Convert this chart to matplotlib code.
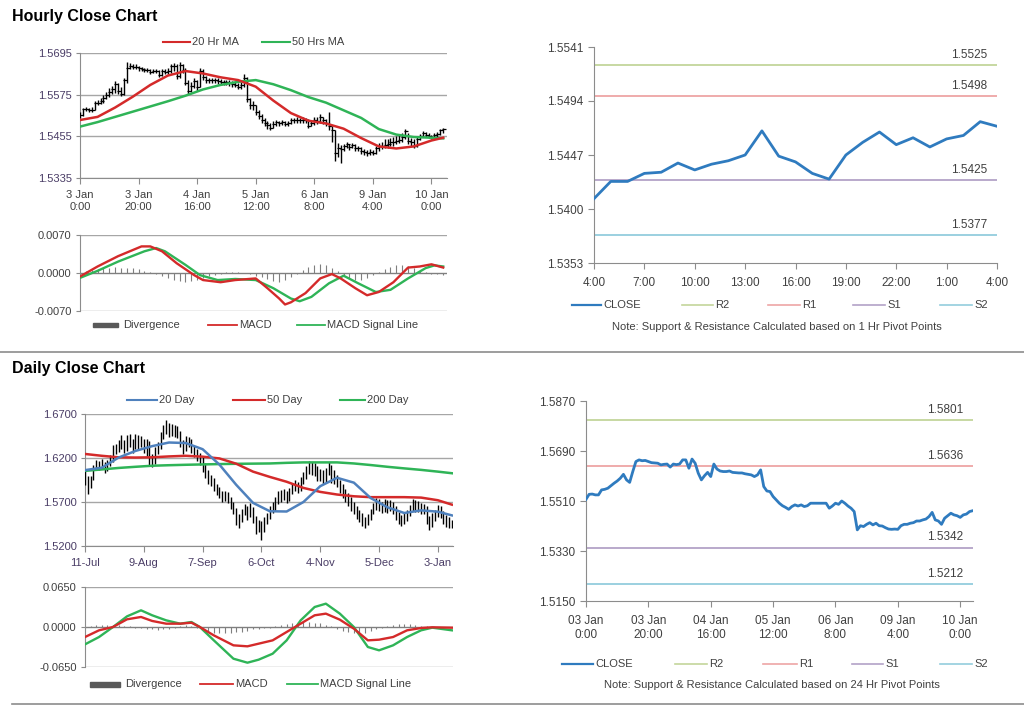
import matplotlib
matplotlib.use('Agg')
import matplotlib.pyplot as plt
from matplotlib.lines import Line2D
from matplotlib.patches import Rectangle

plt.rcParams['font.family'] = ['Liberation Sans', 'DejaVu Sans']

W, H = 1024, 706

# ---------------- hourly data (3 Jan 0:00 .. 10 Jan 4:00, 125 bars) ----------------
hourly_close = [
    1.5516, 1.5534, 1.5535, 1.5532, 1.5532, 1.5550, 1.5552, 1.5556, 1.5565, 1.5574,
    1.5582, 1.5592, 1.5606, 1.5586, 1.5577, 1.5616, 1.5652, 1.5658, 1.5655, 1.5656,
    1.5652, 1.5648, 1.5647, 1.5646, 1.5640, 1.5642, 1.5643, 1.5632, 1.5643, 1.5641,
    1.5643, 1.5658, 1.5658, 1.5628, 1.5661, 1.5646, 1.5610, 1.5586, 1.5601, 1.5613,
    1.5598, 1.5643, 1.5625, 1.5618, 1.5616, 1.5616, 1.5618, 1.5613, 1.5612, 1.5611,
    1.5611, 1.5608, 1.5606, 1.5604, 1.5598, 1.5604, 1.5622, 1.5562, 1.5546, 1.5544,
    1.5526, 1.5514, 1.5502, 1.5493, 1.5487, 1.5480, 1.5490, 1.5496, 1.5492, 1.5496,
    1.5490, 1.5493, 1.5502, 1.5502, 1.5502, 1.5502, 1.5502, 1.5502, 1.5484, 1.5492,
    1.5502, 1.5498, 1.5510, 1.5502, 1.5492, 1.5484, 1.5472, 1.5406, 1.5421, 1.5418,
    1.5426, 1.5432, 1.5424, 1.5430, 1.5421, 1.5420, 1.5414, 1.5409, 1.5408, 1.5409,
    1.5408, 1.5421, 1.5426, 1.5426, 1.5430, 1.5432, 1.5438, 1.5438, 1.5442, 1.5445,
    1.5454, 1.5469, 1.5442, 1.5438, 1.5426, 1.5448, 1.5457, 1.5466, 1.5460, 1.5457,
    1.5451, 1.5460, 1.5463, 1.5472, 1.5475]
hourly_high = [
    1.5524, 1.5538, 1.5540, 1.5538, 1.5540, 1.5556, 1.5560, 1.5564, 1.5574, 1.5582,
    1.5594, 1.5600, 1.5614, 1.5608, 1.5596, 1.5622, 1.5668, 1.5666, 1.5662, 1.5662,
    1.5658, 1.5656, 1.5652, 1.5652, 1.5648, 1.5648, 1.5650, 1.5646, 1.5650, 1.5648,
    1.5652, 1.5664, 1.5666, 1.5662, 1.5668, 1.5664, 1.5652, 1.5616, 1.5612, 1.5622,
    1.5618, 1.5652, 1.5648, 1.5630, 1.5624, 1.5624, 1.5624, 1.5622, 1.5620, 1.5618,
    1.5618, 1.5616, 1.5614, 1.5612, 1.5610, 1.5612, 1.5634, 1.5626, 1.5566, 1.5556,
    1.5546, 1.5530, 1.5520, 1.5508, 1.5500, 1.5492, 1.5498, 1.5502, 1.5500, 1.5502,
    1.5498, 1.5500, 1.5508, 1.5508, 1.5510, 1.5508, 1.5510, 1.5508, 1.5506, 1.5500,
    1.5512, 1.5510, 1.5518, 1.5512, 1.5504, 1.5526, 1.5486, 1.5472, 1.5436, 1.5430,
    1.5434, 1.5440, 1.5434, 1.5436, 1.5432, 1.5428, 1.5424, 1.5418, 1.5416, 1.5418,
    1.5416, 1.5428, 1.5436, 1.5440, 1.5446, 1.5448, 1.5450, 1.5452, 1.5456, 1.5458,
    1.5466, 1.5476, 1.5466, 1.5450, 1.5446, 1.5456, 1.5462, 1.5470, 1.5468, 1.5464,
    1.5460, 1.5466, 1.5468, 1.5476, 1.5480]
hourly_low = [
    1.5508, 1.5514, 1.5528, 1.5526, 1.5526, 1.5530, 1.5544, 1.5548, 1.5552, 1.5562,
    1.5568, 1.5576, 1.5580, 1.5578, 1.5570, 1.5574, 1.5610, 1.5648, 1.5648, 1.5648,
    1.5644, 1.5642, 1.5640, 1.5640, 1.5634, 1.5636, 1.5636, 1.5626, 1.5628, 1.5634,
    1.5634, 1.5638, 1.5644, 1.5620, 1.5624, 1.5636, 1.5604, 1.5578, 1.5582, 1.5594,
    1.5586, 1.5596, 1.5616, 1.5608, 1.5608, 1.5608, 1.5610, 1.5606, 1.5604, 1.5604,
    1.5602, 1.5600, 1.5598, 1.5596, 1.5590, 1.5592, 1.5596, 1.5554, 1.5534, 1.5532,
    1.5516, 1.5504, 1.5492, 1.5484, 1.5476, 1.5472, 1.5478, 1.5486, 1.5486, 1.5488,
    1.5484, 1.5486, 1.5490, 1.5494, 1.5494, 1.5494, 1.5492, 1.5494, 1.5478, 1.5484,
    1.5488, 1.5490, 1.5494, 1.5490, 1.5484, 1.5474, 1.5440, 1.5384, 1.5396, 1.5378,
    1.5414, 1.5420, 1.5416, 1.5420, 1.5414, 1.5412, 1.5404, 1.5400, 1.5398, 1.5400,
    1.5400, 1.5404, 1.5414, 1.5418, 1.5420, 1.5422, 1.5428, 1.5428, 1.5432, 1.5436,
    1.5440, 1.5448, 1.5434, 1.5428, 1.5420, 1.5424, 1.5444, 1.5452, 1.5452, 1.5450,
    1.5446, 1.5450, 1.5454, 1.5458, 1.5466]

hourly_ticks = [0, 20, 40, 60, 80, 100, 120]
hourly_ticklabels = ['3 Jan\n0:00', '3 Jan\n20:00', '4 Jan\n16:00', '5 Jan\n12:00',
                     '6 Jan\n8:00', '9 Jan\n4:00', '10 Jan\n0:00']
pivot_day_ticklabels = ['03 Jan\n0:00', '03 Jan\n20:00', '04 Jan\n16:00', '05 Jan\n12:00',
                        '06 Jan\n8:00', '09 Jan\n4:00', '10 Jan\n0:00']

ma_hours = [0, 6, 12, 18, 24, 30, 36, 42, 48, 54, 60, 66, 72, 78, 84, 90, 96, 102, 108, 114, 120, 124]
ma20_hr = [1.5502, 1.5511, 1.5538, 1.5569, 1.5603, 1.5630, 1.5643, 1.5636, 1.5625, 1.5617, 1.5598,
           1.5558, 1.5522, 1.5500, 1.5492, 1.5477, 1.5450, 1.5426, 1.5420, 1.5426, 1.5443, 1.5451]
ma50_hr = [1.5483, 1.5496, 1.5511, 1.5526, 1.5541, 1.5556, 1.5572, 1.5590, 1.5603, 1.5612, 1.5617,
           1.5605, 1.5588, 1.5568, 1.5552, 1.5530, 1.5508, 1.5476, 1.5460, 1.5453, 1.5451, 1.5449]

macd_hr_x = [0, 6, 13, 21, 24, 28, 33, 39, 42, 48, 53, 60, 64, 68, 70, 72, 77, 82, 86, 89, 94, 98,
             102, 107, 112, 116, 120, 124]
macd_hr = [-0.00065, 0.0012, 0.0031, 0.0049, 0.0049, 0.0040, 0.0018, -0.0004, -0.0013, -0.0017,
           -0.0013, -0.0010, -0.0028, -0.0047, -0.0058, -0.0054, -0.0037, -0.0010, -0.0002, -0.0010,
           -0.0028, -0.0041, -0.0035, -0.0017, 0.0010, 0.0012, 0.0016, 0.0010]
signal_hr_x = [0, 6, 13, 22, 26, 29, 36, 41, 47, 53, 60, 66, 72, 75, 79, 85, 90, 95, 101, 106,
               112, 118, 121, 124]
signal_hr = [-0.0009, 0.0004, 0.0021, 0.0040, 0.0046, 0.0040, 0.0015, -0.0004, -0.0013, -0.0011,
             -0.0013, -0.0028, -0.0047, -0.0052, -0.0044, -0.0019, -0.0005, -0.0019, -0.0035,
             -0.0031, -0.0010, 0.0009, 0.0014, 0.0012]
div_hr_x = list(range(0, 125, 2))
div_hr = [0.0002, 0.0004, 0.0006, 0.0008, 0.0009, 0.0010, 0.0011, 0.0009, 0.0010, 0.0009,
          0.0007, 0.0004, 0.0001, -0.0002, -0.0006, -0.0010, -0.0013, -0.0015, -0.0016, -0.0015,
          -0.0013, -0.0010, -0.0006, -0.0003, -0.0001, 0.0001, 0.0002, 0.0001, 0.0000, -0.0002,
          -0.0005, -0.0008, -0.0011, -0.0014, -0.0016, -0.0013, -0.0008, -0.0002, 0.0006, 0.0011,
          0.0015, 0.0016, 0.0015, 0.0010, 0.0003, -0.0004, -0.0009, -0.0012, -0.0013, -0.0010,
          -0.0004, 0.0002, 0.0007, 0.0011, 0.0014, 0.0015, 0.0013, 0.0009, 0.0004, 0.0001,
          -0.0001, -0.0002, -0.0003]

# 1 Hr pivot chart (9 Jan 4:00 .. 10 Jan 4:00)
pivot_1h_labels = ['4:00', '7:00', '10:00', '13:00', '16:00', '19:00', '22:00', '1:00', '4:00']
pivot_1h_close = [1.5409, 1.5424, 1.5424, 1.5431, 1.5432, 1.5440, 1.5434, 1.5439, 1.5442, 1.5447,
                  1.5468, 1.5446, 1.5441, 1.5431, 1.5426, 1.5447, 1.5458, 1.5467, 1.5456, 1.5462,
                  1.5454, 1.5461, 1.5464, 1.5476, 1.5472]
levels_1h = {'R2': 1.5525, 'R1': 1.5498, 'S1': 1.5425, 'S2': 1.5377}
levels_24h = {'R2': 1.5801, 'R1': 1.5636, 'S1': 1.5342, 'S2': 1.5212}

# ---------------- daily data (11 Jul .. 10 Jan, 132 bars) ----------------
daily_high = [
    1.6060, 1.5990, 1.6000, 1.6120, 1.6180, 1.6170, 1.6190, 1.6160, 1.6180, 1.6230,
    1.6350, 1.6360, 1.6410, 1.6460, 1.6400, 1.6460, 1.6470, 1.6420, 1.6470, 1.6460,
    1.6450, 1.6420, 1.6420, 1.6390, 1.6240, 1.6320, 1.6380, 1.6490, 1.6580, 1.6630,
    1.6600, 1.6590, 1.6570, 1.6560, 1.6510, 1.6400, 1.6450, 1.6440, 1.6420, 1.6340,
    1.6300, 1.6260, 1.6210, 1.6140, 1.6060, 1.6010, 1.5970, 1.5910, 1.5870, 1.5830,
    1.5830, 1.5810, 1.5760, 1.5700, 1.5630, 1.5560, 1.5620, 1.5680, 1.5660, 1.5690,
    1.5640, 1.5540, 1.5490, 1.5480, 1.5530, 1.5580, 1.5650, 1.5700, 1.5760, 1.5830,
    1.5840, 1.5850, 1.5830, 1.5860, 1.5920, 1.5950, 1.5930, 1.5980, 1.6040, 1.6110,
    1.6170, 1.6160, 1.6140, 1.6110, 1.6080, 1.6060, 1.6090, 1.6160, 1.6120, 1.6060,
    1.6010, 1.5950, 1.5900, 1.5850, 1.5800, 1.5760, 1.5700, 1.5660, 1.5610, 1.5570,
    1.5530, 1.5560, 1.5620, 1.5690, 1.5740, 1.5730, 1.5700, 1.5730, 1.5720, 1.5720,
    1.5700, 1.5650, 1.5590, 1.5550, 1.5570, 1.5610, 1.5670, 1.5730, 1.5720, 1.5710,
    1.5690, 1.5680, 1.5650, 1.5540, 1.5570, 1.5610, 1.5670, 1.5660, 1.5600, 1.5550,
    1.5530, 1.5500]
daily_low = [
    1.5890, 1.5790, 1.5860, 1.5950, 1.6060, 1.6060, 1.6080, 1.6030, 1.6050, 1.6110,
    1.6150, 1.6250, 1.6270, 1.6300, 1.6260, 1.6280, 1.6330, 1.6260, 1.6300, 1.6300,
    1.6320, 1.6260, 1.6220, 1.6120, 1.6100, 1.6130, 1.6250, 1.6300, 1.6420, 1.6470,
    1.6440, 1.6450, 1.6440, 1.6430, 1.6330, 1.6250, 1.6280, 1.6330, 1.6260, 1.6210,
    1.6170, 1.6120, 1.6040, 1.5970, 1.5910, 1.5880, 1.5830, 1.5780, 1.5740, 1.5700,
    1.5710, 1.5690, 1.5620, 1.5560, 1.5440, 1.5410, 1.5470, 1.5550, 1.5500, 1.5530,
    1.5460, 1.5340, 1.5360, 1.5270, 1.5360, 1.5450, 1.5510, 1.5570, 1.5600, 1.5680,
    1.5700, 1.5720, 1.5690, 1.5710, 1.5790, 1.5820, 1.5800, 1.5830, 1.5900, 1.5960,
    1.6020, 1.6010, 1.6000, 1.5940, 1.5940, 1.5910, 1.5930, 1.6010, 1.5920, 1.5910,
    1.5870, 1.5800, 1.5750, 1.5700, 1.5660, 1.5600, 1.5560, 1.5510, 1.5470, 1.5430,
    1.5410, 1.5440, 1.5490, 1.5560, 1.5610, 1.5600, 1.5570, 1.5590, 1.5580, 1.5600,
    1.5560, 1.5500, 1.5450, 1.5430, 1.5450, 1.5480, 1.5540, 1.5600, 1.5590, 1.5590,
    1.5560, 1.5560, 1.5450, 1.5380, 1.5420, 1.5480, 1.5530, 1.5520, 1.5450, 1.5420,
    1.5400, 1.5410]
daily_ticks = [0, 21, 42, 63, 84, 105, 126]
daily_ticklabels = ['11-Jul', '9-Aug', '7-Sep', '6-Oct', '4-Nov', '5-Dec', '3-Jan']

ma_days = [0, 6, 12, 18, 24, 30, 36, 42, 48, 54, 60, 66, 72, 78, 84, 90, 96, 102, 108, 114, 120, 126, 131]
ma20_day = [1.6062, 1.6090, 1.6205, 1.6280, 1.6335, 1.6376, 1.6370, 1.6300, 1.6125, 1.5895, 1.5690,
            1.5595, 1.5592, 1.5700, 1.5880, 1.5975, 1.5920, 1.5745, 1.5640, 1.5575, 1.5605, 1.5590, 1.5548]
ma50_day = [1.6246, 1.6225, 1.6208, 1.6205, 1.6208, 1.6218, 1.6225, 1.6215, 1.6195, 1.6135, 1.6045,
            1.5985, 1.5930, 1.5860, 1.5815, 1.5785, 1.5765, 1.5755, 1.5755, 1.5755, 1.5750, 1.5720, 1.5670]
ma200_day = [1.6054, 1.6070, 1.6087, 1.6100, 1.6112, 1.6118, 1.6123, 1.6127, 1.6131, 1.6134, 1.6136,
             1.6138, 1.6145, 1.6150, 1.6150, 1.6150, 1.6138, 1.6120, 1.6100, 1.6082, 1.6065, 1.6045, 1.6027]

macd_day_x = [0, 5, 10, 15, 20, 24, 29, 34, 38, 41, 46, 53, 58, 62, 67, 72, 77, 82, 86, 91, 96,
              101, 105, 110, 115, 120, 124, 131]
macd_day = [-0.0163, -0.0054, 0.0000, 0.0125, 0.0163, 0.0098, 0.0054, 0.0054, 0.0070, 0.0000,
            -0.0136, -0.0298, -0.0314, -0.0271, -0.0217, -0.0081, 0.0054, 0.0190, 0.0217, 0.0119,
            -0.0027, -0.0217, -0.0206, -0.0163, -0.0054, -0.0016, -0.0005, -0.0011]
signal_day = [-0.0282, -0.0163, 0.0000, 0.0173, 0.0271, 0.0190, 0.0108, 0.0054, 0.0081, 0.0000,
              -0.0217, -0.0515, -0.0580, -0.0531, -0.0434, -0.0217, 0.0108, 0.0325, 0.0379, 0.0217,
              0.0000, -0.0325, -0.0379, -0.0298, -0.0163, -0.0054, -0.0011, -0.0054]
div_day_x = list(range(0, 131, 2))
div_day = [-0.0010, 0.0020, 0.0030, 0.0035, 0.0040, 0.0035, 0.0030, 0.0020, 0.0010, -0.0010,
           -0.0020, -0.0030, -0.0040, -0.0045, -0.0040, -0.0035, -0.0020, 0.0010, 0.0030, 0.0020,
           -0.0010, -0.0040, -0.0070, -0.0090, -0.0100, -0.0100, -0.0095, -0.0085, -0.0075, -0.0060,
           -0.0040, -0.0030, -0.0015, -0.0010, 0.0010, 0.0030, 0.0050, 0.0070, 0.0080, 0.0080,
           0.0075, 0.0070, 0.0060, 0.0040, 0.0010, -0.0030, -0.0060, -0.0085, -0.0100, -0.0100,
           -0.0090, -0.0070, -0.0040, -0.0020, 0.0010, 0.0030, 0.0045, 0.0050, 0.0045, 0.0035,
           0.0020, 0.0010, 0.0005, 0.0003, 0.0002, 0.0002]

# ---------------- colours ----------------
RED = '#d42a2a'
GREEN = '#2fb457'
BLUE_MA = '#4f81bd'
CLOSE_BLUE = '#2f7bbf'
LEVEL_COLORS = {'R2': '#c3d69b', 'R1': '#eea5a5', 'S1': '#b3a2c7', 'S2': '#93cddd'}
AXIS_GRAY = '#8c8c8c'
GRID_GRAY = '#a6a6a6'
TXT = '#404040'
TICK_PURPLE = '#4a3d66'

fig = plt.figure(figsize=(W / 100, H / 100), dpi=100)


def px_axes(l, t, r, b):
    return fig.add_axes([l / W, 1 - b / H, (r - l) / W, (b - t) / H])


def fx(x):
    return x / W


def fy(y):
    return 1 - y / H


def leg_line(x0, x1, y, color, label, lw=1.6):
    fig.add_artist(Line2D([fx(x0), fx(x1)], [fy(y), fy(y)], color=color, lw=lw))
    fig.text(fx(x1 + 2), fy(y), label, fontsize=8, color=TXT, va='center', ha='left')


def leg_box(x0, x1, y, label):
    fig.add_artist(Rectangle((fx(x0), fy(y + 2.5)), fx(x1 - x0), 5 / H, color='#595959',
                             transform=fig.transFigure))
    fig.text(fx(x1 + 5), fy(y), label, fontsize=8, color=TXT, va='center', ha='left')


def style_price(ax, ticks, yl, lab_color):
    for s in ['top', 'right']:
        ax.spines[s].set_visible(False)
    for s in ['left', 'bottom']:
        ax.spines[s].set_color(AXIS_GRAY)
    ax.set_ylim(*yl)
    ax.set_yticks(ticks)
    ax.yaxis.grid(True, color=GRID_GRAY, lw=1.0)
    ax.set_axisbelow(True)
    ax.tick_params(axis='y', length=3, color=AXIS_GRAY, labelsize=8, labelcolor=lab_color, pad=3)
    ax.tick_params(axis='x', length=4, color=AXIS_GRAY, labelsize=8, labelcolor=lab_color, pad=5)


def style_macd(ax, lim, ticks, labels):
    for s in ['top', 'right', 'bottom']:
        ax.spines[s].set_visible(False)
    ax.spines['left'].set_color(AXIS_GRAY)
    ax.set_ylim(-lim, lim)
    ax.set_yticks(ticks)
    ax.set_yticklabels(labels)
    ax.yaxis.grid(True, color=GRID_GRAY, lw=1.0)
    ax.set_axisbelow(True)
    ax.axhline(0, color='#7f7f7f', lw=0.8, zorder=1)
    ax.set_xticks([])
    ax.tick_params(axis='y', length=3, color=AXIS_GRAY, labelsize=8, labelcolor=TXT, pad=3)


def style_pivot(ax):
    for s in ['top', 'right']:
        ax.spines[s].set_visible(False)
    for s in ['left', 'bottom']:
        ax.spines[s].set_color(AXIS_GRAY)
    ax.tick_params(axis='both', length=4, color=AXIS_GRAY, labelsize=8.5, labelcolor=TXT)
    ax.tick_params(axis='x', pad=6)


def draw_levels(ax, levels):
    for name, val in levels.items():
        ax.axhline(val, color=LEVEL_COLORS[name], lw=1.3)
        ax.annotate(f'{val:.4f}', xy=(1, val), xycoords=('axes fraction', 'data'),
                    xytext=(-7, 3), textcoords='offset points', ha='right', va='bottom',
                    fontsize=8.5, color=TXT)


# ---------------- section titles & separators ----------------
fig.text(fx(12), fy(16), 'Hourly Close Chart', fontsize=11.5, fontweight='bold', va='center')
fig.text(fx(12), fy(369), 'Daily Close Chart', fontsize=11.5, fontweight='bold', va='center')
fig.add_artist(Line2D([0, 1], [fy(352), fy(352)], color='#8c8c8c', lw=1.2))
fig.add_artist(Line2D([fx(12), 1], [fy(704), fy(704)], color='#8c8c8c', lw=1.2))

# ---------------- hourly price ----------------
ax = px_axes(80, 53, 447, 178)
hx = list(range(len(hourly_close)))
ax.vlines(hx, hourly_low, hourly_high, color='black', lw=1.0, zorder=3)
ax.plot([x + 0.35 for x in hx], hourly_close, ls='none', marker='_', ms=2.5, mew=0.9,
        color='black', zorder=3)
ax.plot(ma_hours, ma50_hr, color=GREEN, lw=1.8, zorder=4)
ax.plot(ma_hours, ma20_hr, color=RED, lw=1.8, zorder=5)
ax.set_xlim(0, 125.3)
style_price(ax, [1.5335, 1.5455, 1.5575, 1.5695], (1.5335, 1.5695), TXT)
ax.yaxis.set_major_formatter(matplotlib.ticker.FormatStrFormatter('%.4f'))
ax.tick_params(axis='y', labelcolor=TICK_PURPLE)
ax.set_xticks(hourly_ticks)
ax.set_xticklabels(hourly_ticklabels)
leg_line(163, 190, 42, RED, '20 Hr MA', lw=1.5)
leg_line(262, 290, 42, GREEN, '50 Hrs MA', lw=1.5)

# ---------------- hourly MACD ----------------
ax = px_axes(80, 235, 447, 311)
ax.vlines(div_hr_x, 0, div_hr, color='#7f7f7f', lw=0.8, zorder=2)
ax.plot(signal_hr_x, signal_hr, color=GREEN, lw=1.7, zorder=3)
ax.plot(macd_hr_x, macd_hr, color=RED, lw=1.7, zorder=4)
ax.set_xlim(0, 125.3)
style_macd(ax, 0.007, [-0.007, 0, 0.007], ['-0.0070', '0.0000', '0.0070'])
leg_box(93, 118, 325, 'Divergence')
leg_line(208, 237, 325, RED, 'MACD', lw=1.3)
leg_line(297, 325, 325, GREEN, 'MACD Signal Line', lw=1.3)

# ---------------- 1 hr pivot chart ----------------
ax = px_axes(594, 47, 997, 263)
px1 = list(range(len(pivot_1h_close)))
draw_levels(ax, levels_1h)
ax.plot(px1, pivot_1h_close, color=CLOSE_BLUE, lw=2.0, zorder=4)
ax.set_xlim(0, 24)
ax.set_ylim(1.5353, 1.5541)
ax.set_yticks([1.5353, 1.5400, 1.5447, 1.5494, 1.5541])
ax.yaxis.set_major_formatter(matplotlib.ticker.FormatStrFormatter('%.4f'))
ax.set_xticks(list(range(0, 25, 3)))
ax.set_xticklabels(pivot_1h_labels)
style_pivot(ax)
leg_line(572, 601, 305, CLOSE_BLUE, 'CLOSE', lw=1.6)
for name, (x0, x1) in zip(['R2', 'R1', 'S1', 'S2'], [(682, 713), (768, 800), (853, 885), (940, 972)]):
    leg_line(x0, x1, 305, LEVEL_COLORS[name], name, lw=1.2)
fig.text(fx(777), fy(327), 'Note: Support & Resistance Calculated based on 1 Hr Pivot Points',
         fontsize=8, color=TXT, ha='center', va='center')

# ---------------- daily price ----------------
ax = px_axes(85, 414, 453, 546)
dx = list(range(len(daily_high)))
ax.vlines(dx, daily_low, daily_high, color='black', lw=1.0, zorder=3)
ax.plot(ma_days, ma200_day, color=GREEN, lw=1.8, zorder=4)
ax.plot(ma_days, ma50_day, color=RED, lw=1.8, zorder=5)
ax.plot(ma_days, ma20_day, color=BLUE_MA, lw=1.8, zorder=6)
ax.set_xlim(0, 131.4)
style_price(ax, [1.52, 1.57, 1.62, 1.67], (1.52, 1.67), TICK_PURPLE)
ax.yaxis.set_major_formatter(matplotlib.ticker.FormatStrFormatter('%.4f'))
ax.set_xticks(daily_ticks)
ax.set_xticklabels(daily_ticklabels)
leg_line(127, 157, 400, BLUE_MA, '20 Day', lw=1.5)
leg_line(233, 265, 400, RED, '50 Day', lw=1.5)
leg_line(340, 365, 400, GREEN, '200 Day', lw=1.5)

# ---------------- daily MACD ----------------
ax = px_axes(85, 587, 453, 667)
ax.vlines(div_day_x, 0, div_day, color='#7f7f7f', lw=0.8, zorder=2)
ax.plot(macd_day_x, signal_day, color=GREEN, lw=1.7, zorder=3)
ax.plot(macd_day_x, macd_day, color=RED, lw=1.7, zorder=4)
ax.set_xlim(0, 131.4)
style_macd(ax, 0.065, [-0.065, 0, 0.065], ['-0.0650', '0.0000', '0.0650'])
leg_box(90, 120, 684, 'Divergence')
leg_line(200, 233, 684, RED, 'MACD', lw=1.3)
leg_line(287, 318, 684, GREEN, 'MACD Signal Line', lw=1.3)

# ---------------- 24 hr pivot chart ----------------
ax = px_axes(586, 401, 973, 601)
draw_levels(ax, levels_24h)
ax.plot(hx, hourly_close, color=CLOSE_BLUE, lw=2.0, zorder=4)
ax.set_xlim(0, 124.1)
ax.set_ylim(1.5150, 1.5870)
ax.set_yticks([1.5150, 1.5330, 1.5510, 1.5690, 1.5870])
ax.yaxis.set_major_formatter(matplotlib.ticker.FormatStrFormatter('%.4f'))
ax.set_xticks(hourly_ticks)
ax.set_xticklabels(pivot_day_ticklabels)
style_pivot(ax)
leg_line(562, 593, 664, CLOSE_BLUE, 'CLOSE', lw=1.6)
for name, (x0, x1) in zip(['R2', 'R1', 'S1', 'S2'], [(675, 707), (763, 797), (852, 883), (940, 972)]):
    leg_line(x0, x1, 664, LEVEL_COLORS[name], name, lw=1.2)
fig.text(fx(772), fy(685), 'Note: Support & Resistance Calculated based on 24 Hr Pivot Points',
         fontsize=8, color=TXT, ha='center', va='center')

fig.savefig('out.png', dpi=100)
